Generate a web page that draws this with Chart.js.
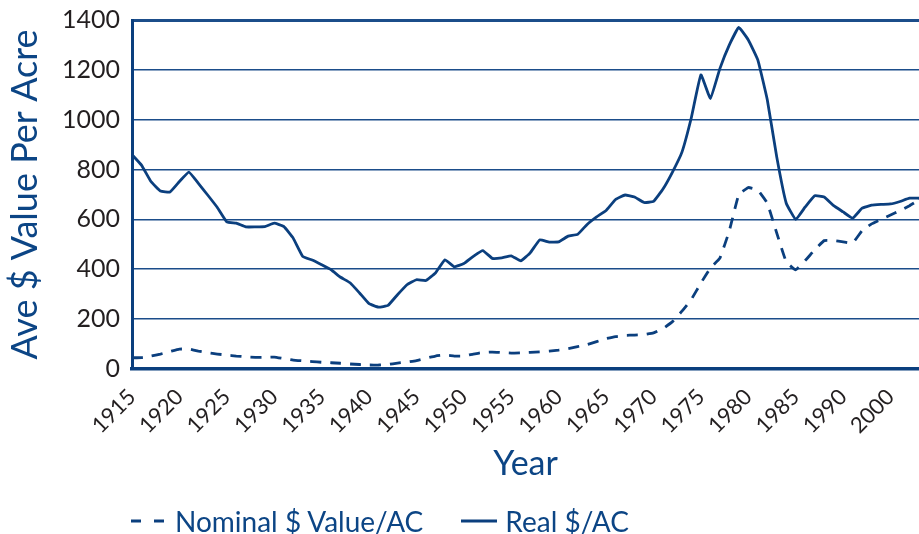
<!DOCTYPE html>
<html>
<head>
<meta charset="utf-8">
<script src="https://cdn.jsdelivr.net/npm/chart.js@4"></script>
<style>
    html, body { margin: 0; padding: 0; background: #fff; }
    #wrap { position: relative; width: 919px; height: 534px; }
    #legend { position: absolute; left: 129px; top: 504px; display: flex; align-items: center;
              font: 28px Lato, sans-serif; color: #0c4585; white-space: nowrap; line-height: 34px; }
    #legend .item { display: flex; align-items: center; margin-right: 36px; }
    #legend svg { margin-right: 6px; }
</style>
</head>
<body>
<div id="wrap">
    <canvas id="landValueChart"></canvas>
    <div id="legend"></div>
</div>
<script>
// Years on the x axis (one point per year)
const years = [
    1915, 1916, 1917, 1918, 1919, 1920, 1921, 1922, 1923, 1924,
    1925, 1926, 1927, 1928, 1929, 1930, 1931, 1932, 1933, 1934,
    1935, 1936, 1937, 1938, 1939, 1940, 1941, 1942, 1943, 1944,
    1945, 1946, 1947, 1948, 1949, 1950, 1951, 1952, 1953, 1954,
    1955, 1956, 1957, 1958, 1959, 1960, 1961, 1962, 1963, 1964,
    1965, 1966, 1967, 1968, 1969, 1970, 1971, 1972, 1973, 1974,
    1975, 1976, 1977, 1978, 1979, 1980, 1981, 1982, 1983, 1984,
    1985, 1986, 1987, 1988, 1989, 1990, 1991, 1992, 1993, 1994,
    1995, 1996, 1997, 1998
];

// Labels printed under the axis, one every 5 points (as in the original: last one reads 2000)
const tickLabels = ['1915', '1920', '1925', '1930', '1935', '1940', '1945', '1950', '1955',
                    '1960', '1965', '1970', '1975', '1980', '1985', '1990', '2000'];
const tickEvery = 5;

// Nominal $ value per acre (dashed)
const nominalValue = [
    45, 46, 52, 60, 70, 80, 80, 72, 65, 60,
    56, 52, 49, 47, 47, 48, 42, 36, 33, 30,
    27, 25, 23, 20, 18, 16, 16, 18, 24, 28,
    34, 43, 52, 56, 52, 52, 60, 66, 68, 66,
    64, 65, 67, 69, 72, 76, 82, 90, 98, 110,
    122, 130, 135, 136, 138, 145, 162, 190, 232, 280,
    345, 405, 445, 555, 700, 728, 718, 665, 545, 430,
    398, 435, 478, 515, 515, 510, 505, 555, 582, 600,
    618, 635, 655, 678
];

// Real $ value per acre (solid)
const realValue = [
    860, 818, 752, 714, 710, 752, 790, 745, 697, 648,
    590, 585, 570, 570, 571, 585, 572, 525, 452, 437,
    418, 398, 368, 346, 305, 262, 248, 255, 298, 338,
    358, 355, 385, 438, 410, 423, 452, 475, 444, 446,
    454, 434, 466, 518, 509, 510, 533, 540, 580, 610,
    636, 680, 698, 690, 668, 672, 722, 790, 870, 1010,
    1180, 1085, 1205, 1300, 1370, 1320, 1240, 1080, 850, 665,
    600, 650, 695, 690, 655, 630, 605, 645, 657, 660,
    662, 672, 685, 685
];

const navy = '#0b3f7e';
const titleBlue = '#0c4585';

document.addEventListener("DOMContentLoaded", function() {
    const ctx = document.getElementById('landValueChart').getContext('2d');
    const landChart = new Chart(ctx, {
        type: 'line',
        data: {
            labels: years,
            datasets: [{
                label: 'Nominal $ Value/AC',
                data: nominalValue,
                borderColor: navy,
                borderWidth: 2.8,
                borderDash: [11, 9],
                pointRadius: 0,
                tension: 0.1,
                fill: false
            }, {
                label: 'Real $/AC',
                data: realValue,
                borderColor: navy,
                borderWidth: 2.8,
                pointRadius: 0,
                tension: 0.1,
                fill: false
            }]
        },
        options: {
            responsive: true,
            maintainAspectRatio: false,
            animation: false,
            layout: { padding: { top: 20, right: 0, bottom: 50, left: 0 } },
            plugins: {
                legend: { display: false },
                tooltip: { enabled: false }
            },
            scales: {
                x: {
                    afterFit: function(scale) { scale.height = 115; },
                    grid: { display: false },
                    border: { display: true, width: 3.5, color: navy },
                    ticks: {
                        autoSkip: false,
                        minRotation: 45,
                        maxRotation: 45,
                        padding: 7,
                        color: '#231f20',
                        font: { family: 'Lato', size: 22 },
                        callback: function(value, index) {
                            return index % tickEvery === 0 ? tickLabels[index / tickEvery] : null;
                        }
                    },
                    title: {
                        display: true,
                        text: 'Year',
                        color: titleBlue,
                        font: { family: 'Lato', size: 34 },
                        padding: { top: 0, bottom: 0 }
                    }
                },
                y: {
                    min: 0,
                    max: 1400,
                    afterFit: function(scale) {
                        scale.width = 132;
                        scale.paddingTop = 0;
                    },
                    grid: {
                        drawTicks: false,
                        color: '#1b4d8a',
                        lineWidth: function(c) { return c.tick && c.tick.value === 1400 ? 3 : 1.6; }
                    },
                    border: { display: true, width: 3, color: navy },
                    ticks: {
                        stepSize: 200,
                        padding: 12,
                        color: '#231f20',
                        font: { family: 'Lato', size: 25 },
                        callback: function(value) { return String(value); }
                    },
                    title: {
                        display: true,
                        text: 'Ave $ Value Per Acre',
                        color: titleBlue,
                        font: { family: 'Lato', size: 36 },
                        padding: { top: 4, bottom: 0 }
                    }
                }
            }
        }
    });

    // Legend below the chart, built from the datasets
    const legend = document.getElementById('legend');
    landChart.data.datasets.forEach(function(ds) {
        const item = document.createElement('div');
        item.className = 'item';
        item.innerHTML =
            '<svg width="40" height="10"><line x1="2" y1="5" x2="38" y2="5" stroke="' + ds.borderColor +
            '" stroke-width="3" stroke-dasharray="' + (ds.borderDash ? '10 13' : 'none') + '"/></svg>' +
            '<span>' + ds.label + '</span>';
        legend.appendChild(item);
    });
});
</script>
</body>
</html>
